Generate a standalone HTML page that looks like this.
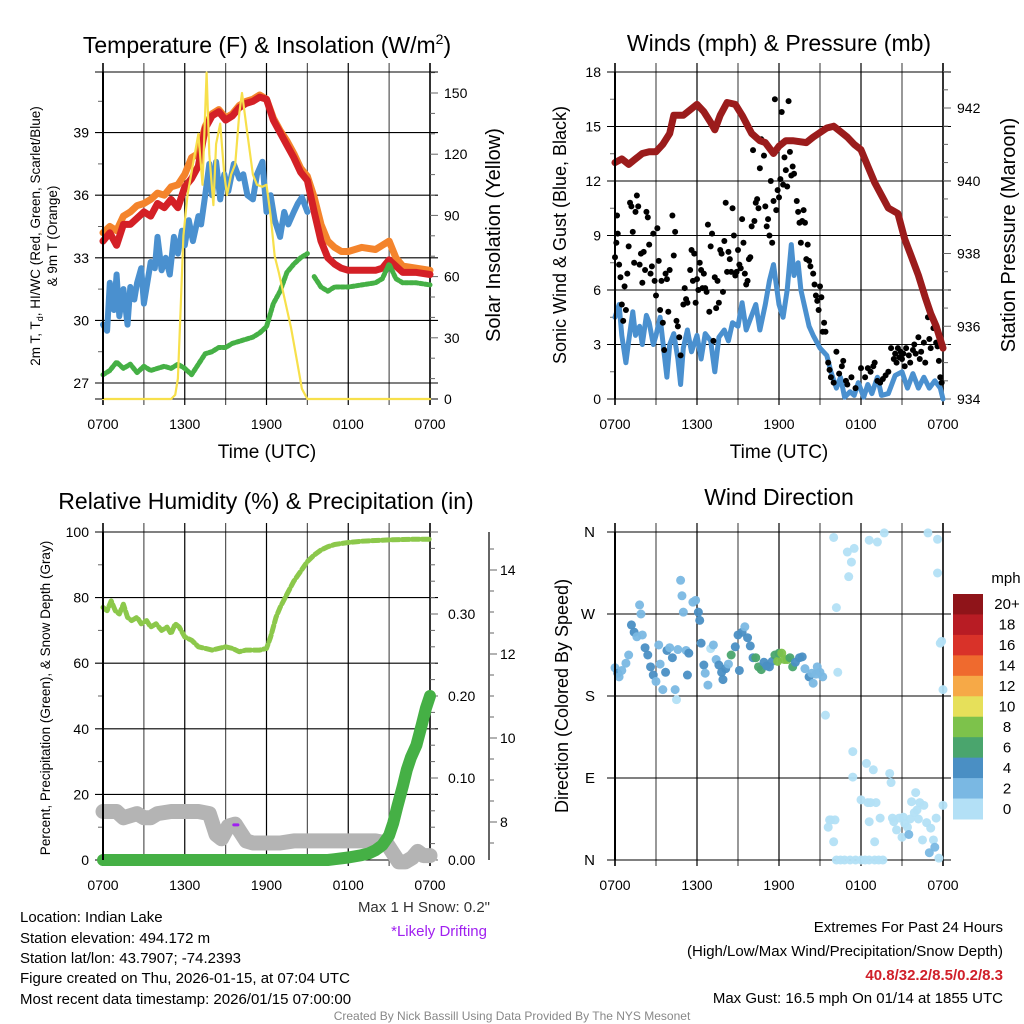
<!DOCTYPE html>
<html><head><meta charset="utf-8"><style>
html,body{margin:0;padding:0;background:#fff}
svg{display:block;font-family:"Liberation Sans",Arial,sans-serif}
</style></head><body>
<svg id="fig" width="1024" height="1024" viewBox="0 0 1024 1024" xmlns="http://www.w3.org/2000/svg">
<rect width="1024" height="1024" fill="#fff"/>
<text x="267" y="53" font-size="23" text-anchor="middle">Temperature (F) &amp; Insolation (W/m<tspan dy="-9" font-size="14">2</tspan><tspan dy="9">)</tspan></text>
<text x="779" y="51" font-size="23" text-anchor="middle">Winds (mph) &amp; Pressure (mb)</text>
<text x="266" y="509" font-size="23" text-anchor="middle">Relative Humidity (%) &amp; Precipitation (in)</text>
<text x="779" y="505" font-size="23" text-anchor="middle">Wind Direction</text>

<text x="267" y="458" font-size="19" text-anchor="middle">Time (UTC)</text>
<text x="779" y="458" font-size="19" text-anchor="middle">Time (UTC)</text>

<text transform="translate(40,236) rotate(-90)" font-size="13.5" text-anchor="middle">2m T, T<tspan dy="3" font-size="9">d</tspan><tspan dy="-3">, HI/WC (Red, Green, Scarlet/Blue)</tspan></text>
<text transform="translate(57,236) rotate(-90)" font-size="13.5" text-anchor="middle">&amp; 9m T (Orange)</text>
<text transform="translate(500,235) rotate(-90)" font-size="20" text-anchor="middle">Solar Insolation (Yellow)</text>
<text transform="translate(566,235) rotate(-90)" font-size="18" text-anchor="middle">Sonic Wind &amp; Gust (Blue, Black)</text>
<text transform="translate(1015,235) rotate(-90)" font-size="20" text-anchor="middle">Station Pressure (Maroon)</text>
<text transform="translate(50,698) rotate(-90)" font-size="13.5" text-anchor="middle">Percent, Precipitation (Green), &amp; Snow Depth (Gray)</text>
<text transform="translate(568,696) rotate(-90)" font-size="18" text-anchor="middle">Direction (Colored By Speed)</text>

<g font-size="15">
<text x="20" y="922">Location: Indian Lake</text>
<text x="20" y="943">Station elevation: 494.172 m</text>
<text x="20" y="963">Station lat/lon: 43.7907; -74.2393</text>
<text x="20" y="983">Figure created on Thu, 2026-01-15, at 07:04 UTC</text>
<text x="20" y="1004">Most recent data timestamp: 2026/01/15 07:00:00</text>
</g>
<text x="490" y="912" font-size="15" fill="#333" text-anchor="end">Max 1 H Snow: 0.2"</text>
<text x="487" y="936" font-size="15" fill="#a020f0" text-anchor="end">*Likely Drifting</text>
<g font-size="15" text-anchor="end">
<text x="1003" y="932">Extremes For Past 24 Hours</text>
<text x="1003" y="956">(High/Low/Max Wind/Precipitation/Snow Depth)</text>
<text x="1003" y="980" fill="#d0202a" font-weight="bold">40.8/32.2/8.5/0.2/8.3</text>
<text x="1003" y="1003">Max Gust: 16.5 mph On 01/14 at 1855 UTC</text>
</g>
<text x="512" y="1020" font-size="12" fill="#888" text-anchor="middle">Created By Nick Bassill Using Data Provided By The NYS Mesonet</text>
</svg>
<script>
// ---------- data ----------
const timeTickLabels = ["0700","1300","1900","0100","0700"];
const redT = [[0,33.8],[0.5,34.2],[1,33.6],[1.5,34.6],[2,34.6],[2.5,34.9],[3,35.2],[3.5,35.0],[4,35.6],[4.5,35.4],[5,35.8],[5.5,35.4],[6,36.4],[6.5,36.8],[7,37.4],[7.5,39.2],[8,39.8],[8.5,40.0],[9,39.6],[9.5,39.8],[10,40.2],[10.5,40.4],[11,40.5],[11.5,40.7],[12,40.6],[12.5,39.6],[13,39.0],[13.5,38.4],[14,37.8],[14.5,37.1],[15,36.7],[15.5,35.2],[16,33.8],[16.5,33.0],[17,32.7],[17.5,32.5],[18,32.4],[19,32.4],[20,32.4],[20.5,32.5],[21,32.9],[21.5,32.6],[22,32.3],[23,32.3],[24,32.2]];
const orangeT = [[0,34.2],[0.5,34.5],[1,34.3],[1.5,35.0],[2,35.2],[2.5,35.5],[3,35.6],[3.5,35.8],[4,36.1],[4.5,36.0],[5,36.4],[5.5,36.5],[6,37.0],[6.5,37.8],[7,38.0],[7.5,39.3],[8,39.9],[8.5,40.1],[9,39.7],[9.5,39.9],[10,40.3],[10.5,40.5],[11,40.6],[11.5,40.8],[12,40.6],[12.5,39.7],[13,39.1],[13.5,38.6],[14,38.0],[14.5,37.3],[15,36.9],[15.5,35.9],[16,34.6],[16.5,33.8],[17,33.5],[17.5,33.3],[18,33.3],[19,33.5],[20,33.4],[20.5,33.6],[21,33.8],[21.5,33.0],[22,32.6],[23,32.5],[24,32.4]];
const blueWC = [[0,29.8],[0.3,29.5],[0.5,31.8],[0.8,30.5],[1,32.2],[1.2,30.2],[1.5,31.5],[1.8,29.8],[2,31.6],[2.3,31.0],[2.5,31.8],[2.8,32.5],[3,30.8],[3.3,32.0],[3.5,32.8],[3.8,32.5],[4,34.0],[4.3,32.4],[4.6,33.0],[4.9,32.2],[5.2,34.0],[5.5,33.2],[5.8,34.3],[6,33.6],[6.3,34.8],[6.6,33.8],[7,35.0],[7.2,34.6],[7.5,36.0],[7.8,37.5],[8,36.0],[8.3,37.6],[8.6,35.8],[8.9,37.0],[9.2,36.2],[9.6,37.5],[10,36.8],[10.3,37.0],[10.6,36.0],[11,35.8],[11.3,37.0],[11.7,37.6],[12,35.2],[12.3,36.0],[12.6,34.8],[13,34.0],[13.3,35.2],[13.6,34.6],[14,35.2],[14.3,35.6],[14.6,35.9],[15,35.2]];
const greenTd = [[0,27.4],[0.5,27.6],[1,28.0],[1.5,27.7],[2,27.9],[2.5,27.5],[3,27.8],[3.5,27.6],[4,27.7],[4.5,27.8],[5,27.7],[5.5,27.9],[6,27.7],[6.5,27.4],[7,27.9],[7.5,28.4],[8,28.5],[8.5,28.7],[9,28.7],[9.5,28.9],[10,29.0],[11,29.2],[11.5,29.4],[12,29.7],[12.5,30.8],[13,31.4],[13.5,32.3],[14,32.7],[14.5,33.0],[15,33.2],[15.5,32.1],[16,31.6],[16.5,31.4],[17,31.6],[18,31.6],[19,31.7],[20,31.8],[20.5,32.0],[21,32.7],[21.5,32.0],[22,31.8],[23,31.8],[24,31.7]];
const insolation = [[0,0],[5,0],[5.3,2],[5.5,10],[5.7,45],[5.9,80],[6.2,100],[6.6,115],[7.0,130],[7.3,105],[7.6,160],[7.8,120],[8.1,95],[8.3,125],[8.6,135],[8.9,110],[9.1,100],[9.4,110],[9.7,115],[10.0,140],[10.2,150],[10.6,130],[11.0,110],[11.3,105],[11.7,104],[12.0,105],[12.3,90],[12.6,70],[12.9,62],[13.3,50],[13.8,35],[14.2,20],[14.6,5],[15,0],[24,0]];
const pressure = [[0,940.5],[0.5,940.6],[1,940.45],[1.5,940.6],[2,940.75],[2.5,940.8],[3,940.8],[3.5,941.0],[4,941.3],[4.3,941.8],[5,941.8],[5.5,941.95],[6,942.1],[6.5,941.9],[7,941.6],[7.3,941.4],[7.7,941.8],[8.2,942.15],[8.8,942.1],[9.3,941.8],[10,941.3],[10.6,941.1],[11,941.05],[11.6,940.75],[12,940.95],[12.5,941.1],[13,941.1],[14,941.05],[14.5,941.2],[15.5,941.45],[16,941.5],[16.5,941.35],[17,941.2],[17.5,941.0],[18,940.85],[18.5,940.4],[19,939.95],[19.5,939.6],[20,939.25],[20.7,939.1],[21.2,938.4],[21.7,937.9],[22.2,937.4],[22.7,936.8],[23.1,936.35],[23.5,936.0],[24,935.4]];
const windSpd = [[0,4.5],[0.3,5.2],[0.5,3.5],[0.8,2.0],[1,3.2],[1.3,4.8],[1.5,3.5],[1.8,4.0],[2,3.0],[2.3,4.6],[2.5,4.2],[2.8,3.0],[3,3.5],[3.3,4.5],[3.6,2.5],[3.8,1.2],[4,3.0],[4.3,3.6],[4.6,2.2],[4.8,0.8],[5,2.8],[5.3,3.8],[5.6,2.6],[6,3.5],[6.3,2.2],[6.6,3.6],[7,3.2],[7.3,1.5],[7.6,3.4],[8,3.8],[8.3,3.2],[8.6,4.2],[9,4.0],[9.3,5.3],[9.6,3.8],[10,4.6],[10.3,5.2],[10.6,3.8],[11,5.2],[11.3,6.5],[11.6,7.4],[12,5.2],[12.3,4.5],[12.6,6.0],[12.9,8.5],[13.1,6.8],[13.4,7.5],[13.6,6.0],[13.9,5.0],[14.2,4.0],[14.5,3.5],[15,2.8],[15.5,2.4],[15.8,1.5],[16.2,0.6],[16.5,1.2],[16.8,0.1],[17.2,0.4],[17.5,0.2],[17.8,0.9],[18.2,0.1],[18.5,0.8],[18.8,0.3],[19.2,1.2],[19.5,0.2],[20,0.3],[20.5,1.3],[21,1.5],[21.4,0.6],[21.8,1.4],[22.2,0.6],[22.6,1.2],[23,0.6],[23.4,1.0],[23.8,0.6],[24,0]];
const gustPts = [[0.0,7.8],[0.1,8.6],[0.15,10.1],[0.2,9.1],[0.3,7.4],[0.4,6.7],[0.5,5.2],[0.6,4.3],[0.7,6.2],[0.8,4.9],[0.9,6.9],[1.0,8.4],[1.1,10.8],[1.2,10.6],[1.3,9.2],[1.4,7.5],[1.5,10.3],[1.6,11.2],[1.7,10.6],[1.8,7.4],[1.9,8.0],[2.0,6.4],[2.1,8.1],[2.2,7.1],[2.3,10.3],[2.4,10.0],[2.5,8.5],[2.6,6.9],[2.7,7.3],[2.8,9.1],[2.9,6.5],[3.0,5.7],[3.1,9.4],[3.2,7.6],[3.3,4.9],[3.4,6.5],[3.5,4.2],[3.6,2.7],[3.7,6.9],[3.8,6.6],[3.9,4.8],[4.0,7.1],[4.2,10.1],[4.3,7.9],[4.4,9.2],[4.5,4.3],[4.6,4.0],[4.7,3.4],[4.8,2.4],[5.0,5.2],[5.1,6.1],[5.2,5.5],[5.3,5.3],[5.5,7.1],[5.6,8.2],[5.7,6.5],[5.8,8.0],[5.9,5.3],[6.0,6.6],[6.1,6.0],[6.2,7.5],[6.3,7.1],[6.4,6.1],[6.5,6.9],[6.6,6.1],[6.7,5.9],[6.8,9.6],[6.9,4.8],[7.0,8.4],[7.1,9.1],[7.2,3.2],[7.3,6.7],[7.4,5.0],[7.5,6.5],[7.6,5.3],[7.7,8.2],[7.8,8.0],[7.9,5.9],[8.0,8.7],[8.1,10.8],[8.2,7.0],[8.3,8.1],[8.4,7.7],[8.5,7.0],[8.6,10.5],[8.7,9.0],[8.8,6.8],[8.9,7.0],[9.0,8.2],[9.1,7.4],[9.2,7.2],[9.3,9.9],[9.4,8.6],[9.5,6.9],[9.6,6.3],[9.7,6.5],[9.8,7.7],[9.9,7.8],[10.0,9.5],[10.1,13.7],[10.2,9.8],[10.3,10.8],[10.4,11.0],[10.5,10.5],[10.6,12.7],[10.7,14.3],[10.8,14.2],[10.9,13.4],[11.0,10.6],[11.1,9.5],[11.2,9.9],[11.3,9.0],[11.4,12.0],[11.5,8.6],[11.6,10.9],[11.7,16.5],[11.8,10.4],[11.9,11.5],[12.0,11.1],[12.1,12.1],[12.2,15.8],[12.3,11.8],[12.4,13.3],[12.5,12.6],[12.6,11.7],[12.7,16.4],[12.8,13.6],[12.9,12.3],[13.0,12.8],[13.1,12.4],[13.3,10.9],[13.4,10.3],[13.5,9.7],[13.6,8.6],[13.7,9.8],[13.8,10.4],[13.9,9.7],[14.0,7.7],[14.1,8.5],[14.2,7.6],[14.3,7.3],[14.5,6.9],[14.6,6.3],[14.7,5.7],[14.8,5.4],[14.9,4.9],[15.0,6.2],[15.1,5.6],[15.2,3.7],[15.3,4.2],[15.4,3.7],[15.6,2.0],[15.7,1.6],[15.8,1.2],[16.0,0.9],[16.2,2.6],[16.4,1.4],[16.6,1.8],[16.7,2.1],[16.9,1.0],[17.0,0.8],[17.3,1.2],[17.6,0.6],[18.0,1.7],[18.3,1.2],[18.5,1.7],[18.7,1.5],[18.9,1.8],[19.0,2.0],[19.2,1.0],[19.4,0.9],[19.6,1.1],[19.8,1.3],[20.0,1.5],[20.2,2.8],[20.4,2.2],[20.5,2.5],[20.6,2.0],[20.7,2.8],[20.8,2.3],[20.9,2.6],[21.0,2.2],[21.1,2.5],[21.2,1.8],[21.3,2.8],[21.5,2.4],[21.6,2.0],[21.8,2.7],[21.9,3.0],[22.0,2.5],[22.2,3.4],[22.3,2.2],[22.4,2.6],[22.6,3.1],[22.7,2.0],[22.9,4.5],[23.0,3.3],[23.1,2.8],[23.3,3.9],[23.5,3.1],[23.6,2.9],[23.7,2.1],[23.8,1.2],[23.9,0.9]];
const rhPct = [[0,77],[0.3,76],[0.6,79],[0.9,76],[1.2,75],[1.5,78],[1.8,74],[2.1,73],[2.5,74],[2.8,72],[3.2,73],[3.5,71],[3.9,72],[4.3,70],[4.7,71],[5.0,69],[5.3,72],[5.6,71],[6.0,68],[6.5,67],[7.0,65],[7.5,64.5],[8.0,64],[8.5,64.5],[9.0,65],[9.5,64.5],[10,63.5],[10.5,64],[11,64],[11.5,64],[12,64.5],[12.3,68],[12.7,74],[13,77],[13.5,81],[14,85],[14.5,88],[15,91],[15.5,93],[16,94.5],[16.5,95.5],[17,96.2],[18,96.8],[19,97.2],[20,97.4],[21,97.6],[22,97.7],[23,97.8],[24,97.8]];
const precipIn = [[0,0],[16.5,0],[17,0.001],[18,0.003],[19,0.006],[19.5,0.008],[20,0.012],[20.5,0.018],[21,0.03],[21.3,0.045],[21.6,0.065],[22,0.09],[22.3,0.11],[22.6,0.125],[23,0.14],[23.4,0.165],[23.7,0.185],[24,0.2]];
const snowDepth = [[0,8.25],[1,8.25],[1.5,8.1],[2,8.15],[2.5,8.2],[3,8.1],[3.5,8.1],[4,8.2],[5,8.25],[6,8.25],[7,8.25],[7.8,8.2],[8.3,7.7],[8.7,7.6],[9.2,7.9],[9.7,7.95],[10.1,7.75],[10.5,7.55],[11,7.5],[13,7.5],[14,7.55],[16,7.55],[20,7.55],[20.8,7.5],[21.3,7.25],[21.7,7.05],[22.2,7.05],[22.7,7.15],[23.1,7.3],[23.5,7.2],[24,7.2]];
const driftMark = [[9.6,7.93],[9.9,7.93]];
const dirPts = [[0,211,3],[0.2,205,4],[0.3,201,3],[0.5,208,2],[0.8,216,2],[1.0,225,3],[1.2,258,4],[1.4,250,4],[1.6,245,3],[1.8,280,2],[1.9,270,2],[2.0,247,3],[2.2,233,4],[2.4,225,4],[2.6,212,4],[2.8,203,4],[3.0,196,2],[3.2,236,2],[3.3,215,3],[3.5,187,2],[3.7,206,4],[3.8,230,4],[4.0,233,3],[4.2,222,4],[4.4,187,2],[4.5,176,1],[4.6,231,2],[4.8,307,2],[4.9,290,2],[5.0,272,2],[5.2,230,3],[5.3,203,4],[5.4,227,4],[5.7,283,2],[5.9,285,2],[6.1,272,4],[6.2,263,4],[6.3,238,4],[6.5,214,4],[6.6,205,3],[6.8,192,3],[7.0,232,1],[7.2,236,2],[7.4,220,2],[7.6,214,4],[7.8,206,4],[7.9,198,4],[8.1,210,4],[8.3,215,3],[8.5,225,6],[8.8,234,4],[9.0,247,4],[9.1,208,4],[9.3,250,4],[9.5,256,3],[9.7,244,4],[9.9,235,4],[10.1,222,4],[10.3,222,6],[10.5,212,6],[10.7,209,6],[10.9,217,4],[11.1,213,4],[11.3,212,4],[11.5,218,4],[11.7,225,6],[11.9,218,8],[12.0,227,6],[12.2,227,8],[12.4,220,8],[12.6,220,8],[12.8,222,6],[13.0,212,6],[13.2,217,4],[13.5,222,4],[13.7,223,4],[13.9,210,2],[14.2,201,4],[14.4,205,2],[14.5,194,2],[14.7,204,2],[14.8,212,2],[15.0,206,2],[15.2,201,2],[15.4,159,1],[16.0,354,1],[16.2,277,1],[16.3,206,1],[17.0,338,1],[17.3,327,1],[17.1,311,1],[17.5,342,1],[17.4,119,1],[17.4,91,1],[15.7,44,1],[15.8,44,1],[15.6,36,1],[16.0,20,1],[16.1,44,1],[16.2,0,1],[16.5,0,1],[16.8,0,1],[17.2,0,1],[17.6,0,1],[18.0,0,1],[18.3,0,1],[18.6,0,1],[19.0,0,1],[19.3,0,1],[19.6,0,1],[18.0,66,1],[18.4,106,1],[18.6,351,1],[18.9,99,1],[19.2,349,1],[19.7,359,1],[18.5,63,1],[18.7,63,1],[19.1,63,1],[18.6,42,1],[19.4,46,1],[19.0,20,1],[20.1,95,1],[20.2,85,1],[20.3,46,1],[20.4,42,1],[20.6,33,1],[20.8,46,1],[21.1,47,1],[21.0,25,1],[21.2,40,1],[21.4,36,1],[21.5,28,2],[21.6,45,1],[21.7,64,1],[21.9,52,1],[22.0,74,1],[22.1,55,1],[22.3,63,1],[22.2,45,1],[22.5,22,1],[22.6,60,1],[22.8,41,1],[22.9,359,1],[23.0,8,2],[23.1,35,1],[23.3,22,1],[23.4,14,2],[23.5,46,1],[23.6,315,1],[23.6,352,1],[23.7,2,1],[23.8,238,1],[23.9,240,1],[24,187,1],[24,60,1]];
const cbarLabels = ["20+","18","16","14","12","10","8","6","4","2","0"];
const cbarColors = ["#8f1419","#b81c24","#d93229","#ef6a2e","#f6a947","#e6e05a","#7dc24b","#4aa56d","#4a8fc4","#7ab8e3","#b3e0f6"];

// ---------- helpers ----------
const NS = "http://www.w3.org/2000/svg";
const svg = document.getElementById("fig");
function mk(tag, attrs, parent) {
  const e = document.createElementNS(NS, tag);
  for (const k in attrs) e.setAttribute(k, attrs[k]);
  (parent || svg).appendChild(e);
  return e;
}
function lin(d0, d1, r0, r1) { return v => r0 + (v - d0) * (r1 - r0) / (d1 - d0); }
function pathD(arr, fx, fy) { return arr.map((p, i) => (i ? "L" : "M") + fx(p[0]).toFixed(1) + "," + fy(p[1]).toFixed(1)).join(""); }
function speedColor(s) { const idx = Math.min(10, Math.floor(s / 2)); return cbarColors[10 - idx]; }

const panels = {
  tl: { x0: 103, x1: 430, y0: 72, y1: 399 },
  tr: { x0: 615, x1: 943, y0: 72, y1: 399 },
  bl: { x0: 103, x1: 430, y0: 532, y1: 860 },
  br: { x0: 615, x1: 943, y0: 532, y1: 860 }
};

// generic grid / time axis
function timeAxis(P, name) {
  const x = lin(0, 24, P.x0, P.x1);
  for (let h = 0; h <= 24; h += 3) {
    const g = mk("line", { x1: x(h), x2: x(h), y1: P.y0 - 9, y2: P.y1 + 6, stroke: (h % 6 === 0) ? "#000" : "#555", "stroke-width": (h === 0 || h === 24) ? 1.6 : 1.2 });
    
    
  }
  timeTickLabels.forEach((lab, i) => {
    const t = mk("text", { x: x(i * 6), y: P.y1 + 30, "font-size": 14, "text-anchor": "middle" });
    t.textContent = lab;
    
    
  });
  return x;
}
function hGrid(P, yv, name, extend) {
  const l = mk("line", { x1: P.x0 - 8, x2: P.x1 + (extend || 8), y1: yv, y2: yv, stroke: "#000", "stroke-width": 1.1 });
  
  
}
function tick(x1, x2, y, name) {
  const l = mk("line", { x1: x1, x2: x2, y1: y, y2: y, stroke: "#666", "stroke-width": 1 });
  
  
}
function label(x, y, txt, anchor, name, size) {
  const t = mk("text", { x: x, y: y + 5, "font-size": size || 14, "text-anchor": anchor });
  t.textContent = txt;
  
  
}
function line(d, color, w, name, extra) {
  const p = mk("path", Object.assign({ d: d, fill: "none", stroke: color, "stroke-width": w, "stroke-linejoin": "round", "stroke-linecap": "round" }, extra || {}));
  
  
  return p;
}

// ---------- TOP LEFT ----------
(function () {
  const P = panels.tl;
  const x = timeAxis(P, "tl");
  const yT = lin(27, 30, 383, 320.4);
  const yI = lin(0, 150, 399, 93);
  for (let v = 27; v <= 39; v += 3) { hGrid(P, yT(v), "tl-temp-gridline"); label(P.x0 - 14, yT(v), String(v), "end", "tl-y-tick-label"); }
  for (let v = 28.5; v <= 41; v += 3) tick(P.x0 - 5, P.x0, yT(v), "tl-minor-tick");
  for (let v = 0; v <= 160; v += 10) tick(P.x1, P.x1 + (v % 30 === 0 ? 8 : 5), yI(v), "tl-right-tick");
  for (let v = 0; v <= 150; v += 30) label(P.x1 + 14, yI(v), String(v), "start", "tl-right-tick-label");
  hGrid(P, P.y0, "tl-top-frame", 0); hGrid(P, P.y1, "tl-bottom-frame", 0);
  line(pathD(orangeT, x, yT), "#f4842c", 7, "orange-9m-temp-line");
  line(pathD(redT, x, yT), "#d42026", 7, "red-2m-temp-line");
  line(pathD(blueWC, x, yT), "#4a90cf", 6, "blue-windchill-line");
  const g1 = greenTd.filter(p => p[0] <= 15), g2 = greenTd.filter(p => p[0] >= 15.5);
  line(pathD(g1, x, yT), "#45b045", 5, "green-dewpoint-line", { "stroke-dasharray": "3 2" });
  line(pathD(g2, x, yT), "#45b045", 5, "green-dewpoint-line-2", { "stroke-dasharray": "3 2" });
  line(pathD(insolation, x, yI), "#f7e04b", 2.2, "yellow-insolation-line");
  const ax = mk("line", { x1: P.x0, x2: P.x0, y1: P.y0, y2: P.y1, stroke: "#000", "stroke-width": 2 });
  
  
})();

// ---------- TOP RIGHT ----------
(function () {
  const P = panels.tr;
  const x = timeAxis(P, "tr");
  const yW = lin(0, 18, 399, 72);
  const yP = lin(934, 942, 399, 108);
  for (let v = 0; v <= 18; v += 3) { hGrid(P, yW(v), "tr-wind-gridline"); label(P.x0 - 14, yW(v), String(v), "end", "tr-y-tick-label"); }
  for (let v = 1.5; v < 18; v += 3) tick(P.x0 - 5, P.x0, yW(v), "tr-minor-tick");
  for (let v = 934; v <= 943; v += 0.5) tick(P.x1, P.x1 + (v % 2 === 0 ? 8 : 5), yP(v), "tr-right-tick");
  for (let v = 934; v <= 942; v += 2) label(P.x1 + 14, yP(v), String(v), "start", "tr-right-tick-label");
  line(pathD(windSpd, x, yW), "#4a90cf", 5, "blue-sonic-wind-line");
  gustPts.forEach(p => {
    const c = mk("circle", { cx: x(p[0]), cy: yW(p[1]), r: 3, fill: "#000" });
    
    
  });
  line(pathD(pressure, x, yP), "#9b1c1c", 7, "maroon-pressure-line");
  const ax = mk("line", { x1: P.x0, x2: P.x0, y1: P.y0, y2: P.y1, stroke: "#000", "stroke-width": 2 });
  
  
})();

// ---------- BOTTOM LEFT ----------
(function () {
  const P = panels.bl;
  const x = timeAxis(P, "bl");
  const yR = lin(0, 100, 860, 532);
  const yPr = lin(0, 0.1, 860, 778);
  const yS = lin(8, 14, 822, 570);
  for (let v = 0; v <= 100; v += 20) { hGrid(P, yR(v), "bl-pct-gridline"); label(P.x0 - 14, yR(v), String(v), "end", "bl-y-tick-label"); }
  for (let v = 10; v < 100; v += 20) tick(P.x0 - 5, P.x0, yR(v), "bl-minor-tick");
  for (let v = 0; v <= 0.4001; v += 0.02) tick(P.x1, P.x1 + (Math.round(v * 100) % 10 === 0 ? 8 : 5), yPr(v), "bl-precip-tick");
  for (let v = 0; v <= 0.30001; v += 0.1) label(P.x1 + 18, yPr(v), v.toFixed(2), "start", "bl-precip-tick-label");
  const sa = mk("line", { x1: 489, x2: 489, y1: 532, y2: 860, stroke: "#333", "stroke-width": 1.5 });
  
  
  for (let v = 7.5; v <= 14.9; v += 0.5) tick(489, 489 + (v % 2 === 0 ? 8 : 5), yS(v), "snow-axis-tick");
  for (let v = 8; v <= 14; v += 2) label(500, yS(v), String(v), "start", "snow-axis-tick-label");
  line(pathD(snowDepth, x, yS), "#b4b4b4", 15, "gray-snow-depth-line");
  line(pathD(driftMark, x, yS), "#a020f0", 3, "likely-drifting-mark");
  line(pathD(precipIn, x, yPr), "#45b045", 12, "green-precip-line");
  line(pathD(rhPct, x, yR), "#8cc84b", 5, "relative-humidity-line", { "stroke-dasharray": "7 3" });
  const ax = mk("line", { x1: P.x0, x2: P.x0, y1: P.y0, y2: P.y1, stroke: "#000", "stroke-width": 2 });
  
  
})();

// ---------- BOTTOM RIGHT ----------
(function () {
  const P = panels.br;
  const x = timeAxis(P, "br");
  const yD = lin(0, 360, 860, 532);
  const dirLabels = ["N", "E", "S", "W", "N"];
  dirLabels.forEach((lab, i) => { hGrid(P, yD(i * 90), "br-direction-gridline", 8); label(P.x0 - 20, yD(i * 90), lab, "end", "br-y-tick-label", 15); });
  dirPts.forEach(p => {
    const c = mk("circle", { cx: x(p[0]), cy: yD(p[1]), r: 4.5, fill: speedColor(p[2]), "fill-opacity": 0.95 });
    
    
  });
  const ax = mk("line", { x1: P.x0, x2: P.x0, y1: P.y0, y2: P.y1, stroke: "#000", "stroke-width": 2 });
  
  
  // colorbar
  const bx = 953, by0 = 594, bh = (819 - 594) / cbarColors.length;
  cbarColors.forEach((col, i) => {
    const r = mk("rect", { x: bx, y: by0 + i * bh, width: 30, height: bh + 0.5, fill: col });
    
    
  });
  cbarLabels.forEach((lab, i) => label(1007, by0 + (i + 0.5) * bh, lab, "middle", "colorbar-label", 15));
  label(1006, 578, "mph", "middle", "colorbar-unit", 15);
})();
</script>
</body></html>
